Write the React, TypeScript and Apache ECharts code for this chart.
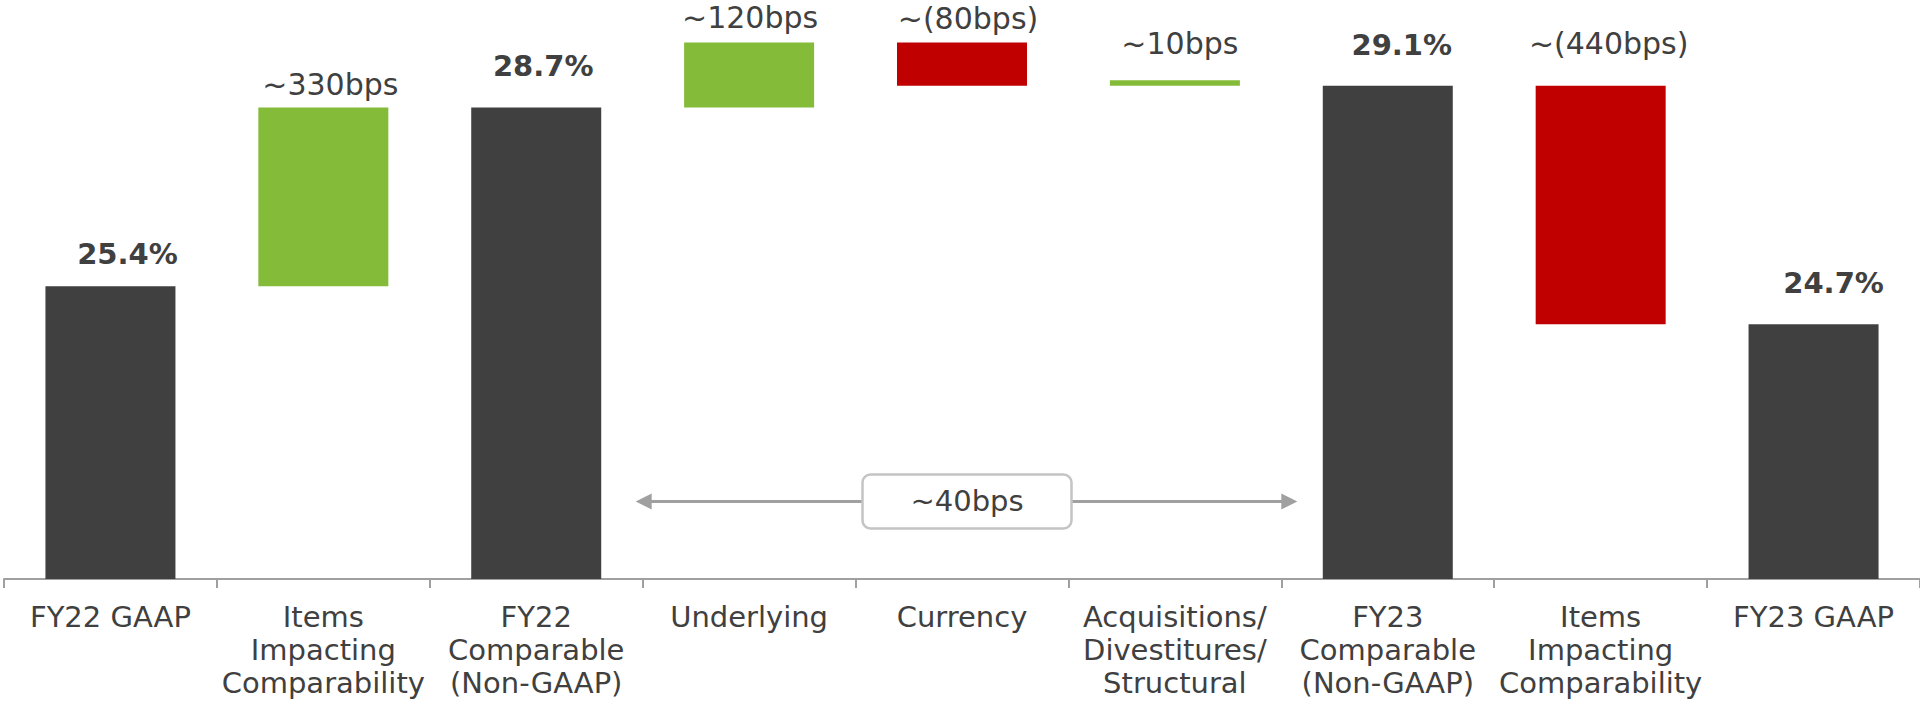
import React, { useEffect, useRef } from "react";
import * as echarts from "echarts";

// Gross margin bridge, FY22 -> FY23 (percent of net revenue)
const CATEGORIES = [
  "FY22 GAAP",
  "Items\nImpacting\nComparability",
  "FY22\nComparable\n(Non-GAAP)",
  "Underlying",
  "Currency",
  "Acquisitions/\nDivestitures/\nStructural",
  "FY23\nComparable\n(Non-GAAP)",
  "Items\nImpacting\nComparability",
  "FY23 GAAP",
];

// Reported margin levels (null where the column is a change)
const TOTALS: (number | null)[] = [25.4, null, 28.7, null, null, null, 29.1, null, 24.7];

// Margin changes in percentage points (null where the column is a level)
const CHANGES: (number | null)[] = [null, 3.3, null, 1.2, -0.8, 0.1, null, -4.4, null];

// Net comparable change between the two comparable columns, in bps
const NET_COMPARABLE_BPS = 40;

// Axis range
const Y_MIN = 20;
const Y_MAX = 30;
// Height (value units) at which the net-change arrow sits
const ARROW_LEVEL = 21.43;

// Label styling per column: gap above the bar (px) and horizontal nudge (px)
const LABEL_GAP = [17, 8, 26, 10, 9, 22, 26, 27, 26];
const LABEL_NUDGE = [17, 7, 7, 1, 6, 5, 14, 8, 20];

const DARK = "#404040";
const GREEN = "#84BB39";
const RED = "#C00000";
const AXIS_GREY = "#A0A0A0";
const FONT = "DejaVu Sans";

function bpsText(delta: number): string {
  const bps = Math.round(Math.abs(delta) * 100);
  return delta < 0 ? `~(${bps}bps)` : `~${bps}bps`;
}

export default function App() {
  const ref = useRef<HTMLDivElement>(null);

  useEffect(() => {
    if (!ref.current) return;
    const chart = echarts.init(ref.current, undefined, { renderer: "svg" });

    // Build the invisible base and the visible segment of each column
    const base: number[] = [];
    const visible: any[] = [];
    let running = 0;
    CATEGORIES.forEach((_, i) => {
      const total = TOTALS[i];
      const change = CHANGES[i];
      let bottom = 0;
      let height = 0;
      let color = DARK;
      let text = "";
      let bold = false;
      if (total != null) {
        running = total;
        bottom = 0;
        height = total;
        text = `${total.toFixed(1)}%`;
        bold = true;
      } else if (change != null) {
        const from = running;
        const to = running + change;
        bottom = Math.min(from, to);
        height = Math.abs(change);
        color = change >= 0 ? GREEN : RED;
        text = bpsText(change);
        running = to;
      }
      base.push(bottom);
      visible.push({
        value: height,
        itemStyle: { color },
        label: {
          show: true,
          position: "top",
          distance: LABEL_GAP[i],
          offset: [LABEL_NUDGE[i], 0],
          formatter: text,
          fontWeight: bold ? "bold" : "normal",
          fontSize: bold ? 29 : 30,
        },
      });
    });

    chart.setOption({
      animation: false,
      backgroundColor: "#ffffff",
      grid: { left: 4, right: 0, top: 37, bottom: 125, containLabel: false },
      xAxis: {
        type: "category",
        data: CATEGORIES,
        axisLine: { show: true, lineStyle: { color: AXIS_GREY, width: 2 } },
        axisTick: {
          show: true,
          alignWithLabel: false,
          length: 9,
          lineStyle: { color: AXIS_GREY, width: 2 },
        },
        axisLabel: {
          interval: 0,
          margin: 21,
          color: DARK,
          fontFamily: FONT,
          fontSize: 29,
          lineHeight: 33,
          align: "center",
        },
      },
      yAxis: {
        type: "value",
        min: Y_MIN,
        max: Y_MAX,
        show: false,
        splitLine: { show: false },
      },
      series: [
        {
          name: "base",
          type: "bar",
          stack: "bridge",
          data: base,
          barWidth: 130,
          itemStyle: { color: "transparent" },
          emphasis: { disabled: true },
          silent: true,
        },
        {
          name: "margin",
          type: "bar",
          stack: "bridge",
          data: visible,
          barWidth: 130,
          label: {
            color: DARK,
            fontFamily: FONT,
            fontSize: 29,
            lineHeight: 30,
          },
          emphasis: { disabled: true },
        },
      ],
    });

    // Net comparable change annotation: double arrow with a rounded box
    const c3 = chart.convertToPixel({ xAxisIndex: 0 }, 3) as number;
    const c4 = chart.convertToPixel({ xAxisIndex: 0 }, 4) as number;
    const c6 = chart.convertToPixel({ xAxisIndex: 0 }, 6) as number;
    const band = c4 - c3;
    const y = chart.convertToPixel({ yAxisIndex: 0 }, ARROW_LEVEL) as number;
    const leftTip = c3 - band / 2 - 7;
    const rightTip = c6 - band / 2 + 16;
    const head = 16;
    const boxW = 209;
    const boxH = 54;
    const boxCx = c4 + 5;

    chart.setOption({
      graphic: [
        {
          type: "line",
          z: 10,
          shape: { x1: leftTip + head - 2, y1: y, x2: rightTip - head + 2, y2: y },
          style: { stroke: AXIS_GREY, lineWidth: 3 },
        },
        {
          type: "polygon",
          z: 10,
          shape: {
            points: [
              [leftTip, y],
              [leftTip + head, y - 8],
              [leftTip + head, y + 8],
            ],
          },
          style: { fill: AXIS_GREY },
        },
        {
          type: "polygon",
          z: 10,
          shape: {
            points: [
              [rightTip, y],
              [rightTip - head, y - 8],
              [rightTip - head, y + 8],
            ],
          },
          style: { fill: AXIS_GREY },
        },
        {
          type: "rect",
          z: 11,
          shape: { x: boxCx - boxW / 2, y: y - boxH / 2, width: boxW, height: boxH, r: 8 },
          style: { fill: "#ffffff", stroke: "#C4C4C4", lineWidth: 2.5 },
        },
        {
          type: "text",
          z: 12,
          x: boxCx,
          y: y,
          style: {
            text: `~${NET_COMPARABLE_BPS}bps`,
            fill: DARK,
            font: `29px "${FONT}"`,
            align: "center",
            verticalAlign: "middle",
          },
        },
      ],
    });

    return () => chart.dispose();
  }, []);

  return (
    <div
      ref={ref}
      style={{ position: "absolute", left: 0, top: 0, width: 1920, height: 704 }}
    />
  );
}
